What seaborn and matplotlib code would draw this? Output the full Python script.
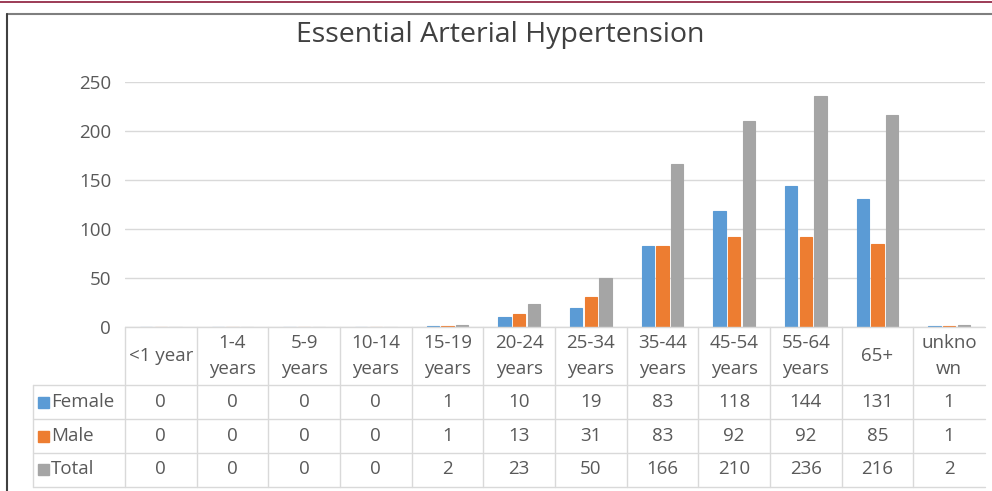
import matplotlib
matplotlib.use("Agg")
import matplotlib.pyplot as plt
from matplotlib.lines import Line2D
from matplotlib.patches import Rectangle
import seaborn as sns
import pandas as pd

age_groups = ["<1 year", "1-4\nyears", "5-9\nyears", "10-14\nyears", "15-19\nyears",
              "20-24\nyears", "25-34\nyears", "35-44\nyears", "45-54\nyears",
              "55-64\nyears", "65+", "unkno\nwn"]
female = [0, 0, 0, 0, 1, 10, 19, 83, 118, 144, 131, 1]
male = [0, 0, 0, 0, 1, 13, 31, 83, 92, 92, 85, 1]
total = [0, 0, 0, 0, 2, 23, 50, 166, 210, 236, 216, 2]
series_names = ["Female", "Male", "Total"]
colors = ["#5B9BD5", "#ED7D31", "#A5A5A5"]

df = pd.DataFrame({
    "age": age_groups * 3,
    "series": [s for s in series_names for _ in age_groups],
    "count": female + male + total,
})

sns.set_style("white")
plt.rcParams["font.family"] = ["Open Sans", "DejaVu Sans"]

W, H = 992, 491
fig = plt.figure(figsize=(W / 100, H / 100), dpi=100)

def fx(px):
    return px / W

def fy(py):
    return 1 - py / H

txt = "#595959"
grid_c = "#D9D9D9"
fs = 13.5

# plot area: x 125..985, y=0 at 327 px, y=250 at 82 px
x0, x1 = 125, 985
ax = fig.add_axes([fx(x0), fy(327), fx(x1) - fx(x0), (327 - 82) / H])
sns.barplot(data=df, x="age", y="count", hue="series", order=age_groups,
            hue_order=series_names, palette=colors, width=0.62, gap=0.17,
            saturation=1, legend=False, linewidth=0.8, ax=ax)
for p in ax.patches:
    p.set_edgecolor(p.get_facecolor())
ax.set_xlim(-0.5, len(age_groups) - 0.5)
ax.set_ylim(0, 250)
ax.set_yticks(range(0, 251, 50))
ax.set_yticklabels([str(v) for v in range(0, 251, 50)], fontsize=fs, color=txt)
ax.tick_params(axis="y", length=0, pad=10)
ax.set_xticks([])
ax.set_xlabel("")
ax.set_ylabel("")
ax.grid(axis="y", color=grid_c, linewidth=1)
ax.set_axisbelow(True)
for s in ax.spines.values():
    s.set_visible(False)

fig.text(fx(500), fy(35), "Essential Arterial Hypertension", ha="center",
         va="center", fontsize=20.5, color="#404040")

# data table below the plot
col_w = (x1 - x0) / len(age_groups)
row_lines = [385, 419, 453, 487]
def hline(xa, xb, y):
    fig.add_artist(Line2D([fx(xa), fx(xb)], [fy(y), fy(y)], transform=fig.transFigure,
                          color=grid_c, lw=1))
def vline(x, ya, yb):
    fig.add_artist(Line2D([fx(x), fx(x)], [fy(ya), fy(yb)], transform=fig.transFigure,
                          color=grid_c, lw=1))

hline(x0, x1, 327)
for y in row_lines:
    hline(33, x1, y)
for i in range(len(age_groups)):
    vline(x0 + i * col_w, 327, 487)
vline(33, 385, 487)

for i, lab in enumerate(age_groups):
    cx = x0 + (i + 0.5) * col_w
    fig.text(fx(cx), fy(356), lab, ha="center", va="center", fontsize=fs,
             color=txt, linespacing=1.5)

row_y = [402, 436, 469]
for name, vals, c, y in zip(series_names, [female, male, total], colors, row_y):
    fig.add_artist(Rectangle((fx(38), fy(y + 6)), fx(11), 11 / H,
                             transform=fig.transFigure, color=c))
    fig.text(fx(51), fy(y), name, ha="left", va="center", fontsize=fs, color=txt)
    for i, v in enumerate(vals):
        cx = x0 + (i + 0.5) * col_w
        fig.text(fx(cx), fy(y), str(v), ha="center", va="center", fontsize=fs, color=txt)

# outer frame
fig.add_artist(Line2D([0, 1], [fy(1.5), fy(1.5)], transform=fig.transFigure,
                      color="#8B1A3A", lw=1.2))
fig.add_artist(Line2D([fx(7), 1], [fy(14), fy(14)], transform=fig.transFigure,
                      color="#7F7F7F", lw=1.5))
fig.add_artist(Line2D([fx(7), fx(7)], [fy(14), 0], transform=fig.transFigure,
                      color="#404040", lw=1.5))

fig.savefig("out.png", dpi=100)
